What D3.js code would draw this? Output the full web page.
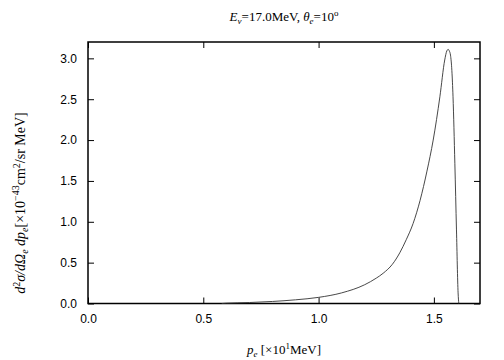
<!DOCTYPE html>
<html><head><meta charset="utf-8">
<script src="https://cdn.jsdelivr.net/npm/d3@7"></script>
<style>body{margin:0;background:#fff}svg{display:block}</style>
</head><body>
<svg id="c" width="504" height="360"></svg>
<script>
const pe = [0.58,0.6,0.7,0.8,0.9,1.0,1.1,1.2,1.25,1.28,1.32,1.352,1.38,1.41,1.44,1.47,1.497,1.526,1.547,1.556,1.562,1.567,1.572,1.578,1.583,1.591,1.598,1.605,1.608];
const xs = [0,0.004,0.012,0.025,0.045,0.075,0.13,0.23,0.31,0.37,0.48,0.62,0.78,0.98,1.26,1.62,2.0,2.53,2.98,3.09,3.11,3.09,3.04,2.85,2.53,1.71,0.9,0.13,0];
const xTicks = [0,0.5,1.0,1.5];
const yTicks = [0,0.5,1.0,1.5,2.0,2.5,3.0];

const svg = d3.select("#c");
const L=88,R=480,T=42,B=303.5;
const x = d3.scaleLinear().domain([0,1.7]).range([L,R]);
const y = d3.scaleLinear().domain([0,3.2]).range([B,T]);
const fmt = d3.format(".1f");
const tf = "'Liberation Sans',Arial,sans-serif";
const sf = "'Liberation Serif','Times New Roman',serif";

const g = svg.append("g");
g.append("g").attr("transform",`translate(0,${B})`).call(d3.axisBottom(x).tickValues(xTicks).tickFormat(fmt).tickSizeInner(-6).tickSizeOuter(0).tickPadding(11));
g.append("g").attr("transform",`translate(0,${T})`).call(d3.axisTop(x).tickValues(xTicks).tickFormat("").tickSizeInner(-6).tickSizeOuter(0));
g.append("g").attr("transform",`translate(${L},0)`).call(d3.axisLeft(y).tickValues(yTicks).tickFormat(fmt).tickSizeInner(-6).tickSizeOuter(0).tickPadding(11));
g.append("g").attr("transform",`translate(${R},0)`).call(d3.axisRight(y).tickValues(yTicks).tickFormat("").tickSizeInner(-6).tickSizeOuter(0));
g.selectAll(".domain").remove();
g.selectAll(".tick line").attr("stroke","#000").attr("stroke-width",1);
g.selectAll(".tick text").attr("font-family",tf).attr("font-size",12).attr("fill","#000");

svg.append("rect").attr("x",L).attr("y",T).attr("width",R-L).attr("height",B-T)
  .attr("fill","none").attr("stroke","#000").attr("stroke-width",1.5);

const line = d3.line().x((d,i)=>x(pe[i])).y(d=>y(d)).curve(d3.curveMonotoneX);
svg.append("path").datum(xs).attr("d",line).attr("fill","none").attr("stroke","#333").attr("stroke-width",0.9);

// title
const t = svg.append("text").attr("x",284).attr("y",21).attr("text-anchor","middle").attr("font-family",sf).attr("font-size",13);
t.append("tspan").attr("font-style","italic").text("E");
t.append("tspan").attr("font-style","italic").attr("font-size",9).attr("dy",3).text("ν");
t.append("tspan").attr("dy",-3).text("=17.0MeV,  ");
t.append("tspan").attr("font-style","italic").text("θ");
t.append("tspan").attr("font-style","italic").attr("font-size",9).attr("dy",3).text("e");
t.append("tspan").attr("dy",-3).text("=10");
t.append("tspan").attr("font-size",9).attr("dy",-5).text("o");

// x label
const xl = svg.append("text").attr("x",284).attr("y",354).attr("text-anchor","middle").attr("font-family",sf).attr("font-size",13);
xl.append("tspan").attr("font-style","italic").text("p");
xl.append("tspan").attr("font-style","italic").attr("font-size",9).attr("dy",3).text("e");
xl.append("tspan").attr("dy",-3).text(" [×10");
xl.append("tspan").attr("font-size",9).attr("dy",-5).text("1");
xl.append("tspan").attr("dy",5).text("MeV]");

// y label
const yl = svg.append("text").attr("transform","translate(25,203) rotate(-90)").attr("text-anchor","middle").attr("font-family",sf).attr("font-size",14);
yl.append("tspan").attr("font-style","italic").text("d");
yl.append("tspan").attr("font-size",10).attr("dy",-5).text("2");
yl.append("tspan").attr("font-style","italic").attr("dy",5).text("σ/dΩ");
yl.append("tspan").attr("font-style","italic").attr("font-size",10).attr("dy",3).text("e");
yl.append("tspan").attr("font-style","italic").attr("dy",-3).text(" dp");
yl.append("tspan").attr("font-style","italic").attr("font-size",10).attr("dy",3).text("e");
yl.append("tspan").attr("dy",-3).text("[×10");
yl.append("tspan").attr("font-size",10).attr("dy",-6).text("−43");
yl.append("tspan").attr("dy",6).text("cm");
yl.append("tspan").attr("font-size",10).attr("dy",-5).text("2");
yl.append("tspan").attr("dy",5).text("/sr MeV]");
</script>
</body></html>
